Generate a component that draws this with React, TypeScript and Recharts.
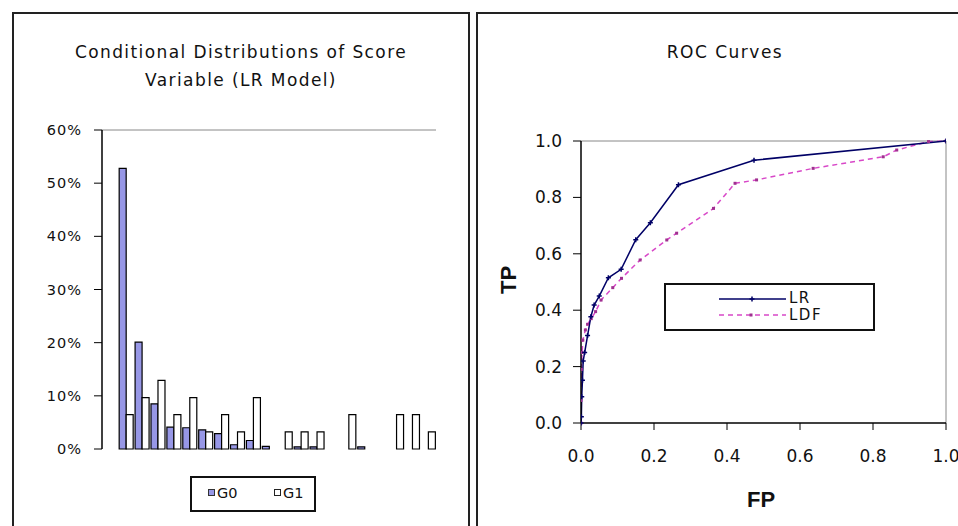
import React from 'react';
import {
  BarChart, Bar, XAxis, YAxis, ReferenceLine, LineChart, Line,
} from 'recharts';

// ---------- Left chart data ----------
const scoreBins = ['1', '2', '3', '4', '5', '6', '7', '8', '9', '10', '11', '12', '13', '14', '15', '16', '17', '18', '19', '20', '21'];
const g0Values = [0, 52.8, 20.1, 8.5, 4.1, 4.0, 3.6, 2.9, 0.8, 1.6, 0.5, 0, 0.4, 0.4, 0, 0, 0.4, 0, 0, 0, 0];
const g1Values = [0, 6.45, 9.68, 12.9, 6.45, 9.68, 3.23, 6.45, 3.23, 9.68, 0, 3.23, 3.23, 3.23, 0, 6.45, 0, 0, 6.45, 6.45, 3.23];
const pctTicks = [0, 10, 20, 30, 40, 50, 60];

// ---------- Right chart data ----------
const lrFP = [0, 0.001, 0.002, 0.004, 0.006, 0.01, 0.018, 0.027, 0.036, 0.05, 0.075, 0.11, 0.15, 0.19, 0.267, 0.474, 1];
const lrTP = [0, 0.022, 0.093, 0.152, 0.22, 0.25, 0.31, 0.377, 0.418, 0.45, 0.515, 0.545, 0.65, 0.71, 0.845, 0.932, 1];
const ldfFP = [0, 0, 0.001, 0.003, 0.005, 0.012, 0.018, 0.028, 0.04, 0.055, 0.087, 0.111, 0.162, 0.235, 0.262, 0.363, 0.422, 0.481, 0.636, 0.828, 0.865, 0.952, 1];
const ldfTP = [0, 0.08, 0.19, 0.25, 0.294, 0.33, 0.35, 0.37, 0.395, 0.436, 0.48, 0.513, 0.578, 0.649, 0.673, 0.761, 0.85, 0.862, 0.903, 0.944, 0.968, 0.998, 1];
const rocTicks = [0, 0.2, 0.4, 0.6, 0.8, 1.0];

const barData = scoreBins.map((b, i) => ({ bin: b, G0: g0Values[i], G1: g1Values[i] }));
const lrData = lrFP.map((fp, i) => ({ fp, tp: lrTP[i] }));
const ldfData = ldfFP.map((fp, i) => ({ fp, tp: ldfTP[i] }));

const FONT = '"DejaVu Sans", Verdana, sans-serif';
const G0_COLOR = '#9797e6';
const LR_COLOR = '#000066';
const LDF_COLOR = '#d848c8';

const PlusDot = (props: any) => {
  const { cx, cy } = props;
  if (cx == null || cy == null) return null;
  return (
    <path d={`M${cx - 2.5},${cy}H${cx + 2.5}M${cx},${cy - 2.5}V${cy + 2.5}`} stroke={LR_COLOR} strokeWidth={1.5} fill="none" />
  );
};

const SmallDot = (props: any) => {
  const { cx, cy } = props;
  if (cx == null || cy == null) return null;
  return <rect x={cx - 1.5} y={cy - 1.5} width={3} height={3} fill="#a03090" />;
};

export default function App() {
  return (
    <div style={{ position: 'absolute', left: 0, top: 0, width: 958, height: 526, overflow: 'hidden', background: '#fff', fontFamily: FONT }}>
      {/* Left panel */}
      <div style={{ position: 'absolute', left: 0, top: 0 }}>
        <BarChart width={480} height={526} data={barData} margin={{ top: 130, right: 44, bottom: 77, left: 0 }} barCategoryGap="8%" barGap={0}>
          <XAxis dataKey="bin" height={0} tick={false} tickLine={false} axisLine={{ stroke: '#000', strokeWidth: 1.5 }} />
          <YAxis domain={[0, 60]} ticks={pctTicks} width={102} interval={0}
            tickFormatter={(v: number) => `${v}%`}
            tick={{ fill: '#111', fontSize: 14.5, fontFamily: FONT, letterSpacing: 1 }}
            tickSize={8} tickMargin={12}
            tickLine={{ stroke: '#000' }} axisLine={{ stroke: '#000', strokeWidth: 1.5 }} />
          <YAxis yAxisId="r" orientation="right" domain={[0, 60]} width={0} tick={false} tickLine={false} axisLine={{ stroke: '#888' }} />
          <ReferenceLine y={60} stroke="#888" />
          <Bar dataKey="G0" fill={G0_COLOR} stroke="#000" strokeWidth={1.2} isAnimationActive={false} />
          <Bar dataKey="G1" fill="#fff" stroke="#000" strokeWidth={1.2} isAnimationActive={false} />
        </BarChart>
      </div>
      <div style={{ position: 'absolute', left: 12, top: 12, width: 454, height: 600, border: '2px solid #222', pointerEvents: 'none' }} />
      <div style={{ position: 'absolute', left: 14, width: 454, top: 38, textAlign: 'center', fontSize: 17, lineHeight: '28px', letterSpacing: 1.4, color: '#111' }}>
        Conditional Distributions of Score<br />Variable (LR Model)
      </div>
      <div style={{ position: 'absolute', left: 190, top: 476, width: 122, height: 32, border: '2px solid #111', boxSizing: 'content-box' }}>
        <div style={{ position: 'absolute', left: 16, top: 11, width: 7, height: 7, background: G0_COLOR, border: '1px solid #333', boxSizing: 'border-box' }} />
        <div style={{ position: 'absolute', left: 25, top: 6, fontSize: 14.5, lineHeight: '18px', color: '#111' }}>G0</div>
        <div style={{ position: 'absolute', left: 82, top: 11, width: 7, height: 7, background: '#fff', border: '1px solid #222', boxSizing: 'border-box' }} />
        <div style={{ position: 'absolute', left: 91, top: 6, fontSize: 14.5, lineHeight: '18px', color: '#111' }}>G1</div>
      </div>

      {/* Right panel */}
      <div style={{ position: 'absolute', left: 480, top: 0 }}>
        <LineChart width={478} height={526} margin={{ top: 141, right: 12, bottom: 63, left: 0 }}>
          <XAxis dataKey="fp" type="number" domain={[0, 1]} ticks={rocTicks} interval={0} height={40}
            tickFormatter={(v: number) => v.toFixed(1)}
            tick={{ fill: '#111', fontSize: 17, fontFamily: FONT }}
            tickSize={7} tickMargin={20}
            tickLine={{ stroke: '#000' }} axisLine={{ stroke: '#000', strokeWidth: 1.5 }} allowDataOverflow />
          <YAxis dataKey="tp" type="number" domain={[0, 1]} ticks={rocTicks} interval={0} width={101}
            tickFormatter={(v: number) => v.toFixed(1)}
            tick={{ fill: '#111', fontSize: 17, fontFamily: FONT }}
            tickSize={8} tickMargin={11}
            tickLine={{ stroke: '#000' }} axisLine={{ stroke: '#000', strokeWidth: 1.5 }} />
          <ReferenceLine y={1} stroke="#888" />
          <ReferenceLine x={1} stroke="#888" />
          <Line data={ldfData} dataKey="tp" type="linear" stroke={LDF_COLOR} strokeWidth={1.5} strokeDasharray="5 4" dot={<SmallDot />} activeDot={false} isAnimationActive={false} />
          <Line data={lrData} dataKey="tp" type="linear" stroke={LR_COLOR} strokeWidth={1.5} dot={<PlusDot />} activeDot={false} isAnimationActive={false} />
        </LineChart>
      </div>
      <div style={{ position: 'absolute', left: 476, top: 12, width: 520, height: 600, border: '2px solid #222', pointerEvents: 'none' }} />
      <div style={{ position: 'absolute', left: 478, width: 494, top: 38, textAlign: 'center', fontSize: 17, lineHeight: '28px', letterSpacing: 1.5, color: '#111' }}>
        ROC Curves
      </div>
      <div style={{ position: 'absolute', left: 740, top: 486, width: 42, textAlign: 'center', fontSize: 22, fontWeight: 'bold', fontFamily: '"Liberation Sans", Arial, sans-serif', lineHeight: '28px', color: '#111' }}>
        FP
      </div>
      <div style={{ position: 'absolute', left: 488, top: 266, width: 42, height: 28, textAlign: 'center', fontSize: 22, fontWeight: 'bold', fontFamily: '"Liberation Sans", Arial, sans-serif', lineHeight: '28px', color: '#111', transform: 'rotate(-90deg)' }}>
        TP
      </div>
      <div style={{ position: 'absolute', left: 664, top: 283, width: 207, height: 44, border: '2px solid #111', background: '#fff' }}>
        <svg width={80} height={44} style={{ position: 'absolute', left: 50, top: 0 }}>
          <line x1={3} y1={14} x2={70} y2={14} stroke={LR_COLOR} strokeWidth={1.5} />
          <path d="M36,11.5V16.5M33.5,14H38.5" stroke={LR_COLOR} strokeWidth={1.5} />
          <line x1={3} y1={30} x2={70} y2={30} stroke={LDF_COLOR} strokeWidth={1.5} strokeDasharray="5 4" />
          <rect x={33.5} y={28.5} width={3} height={3} fill="#a03090" />
        </svg>
        <div style={{ position: 'absolute', left: 123, top: 6, fontSize: 15, lineHeight: '15px', letterSpacing: 1.5, color: '#111' }}>LR</div>
        <div style={{ position: 'absolute', left: 123, top: 23, fontSize: 15, lineHeight: '15px', letterSpacing: 1.5, color: '#111' }}>LDF</div>
      </div>
    </div>
  );
}
